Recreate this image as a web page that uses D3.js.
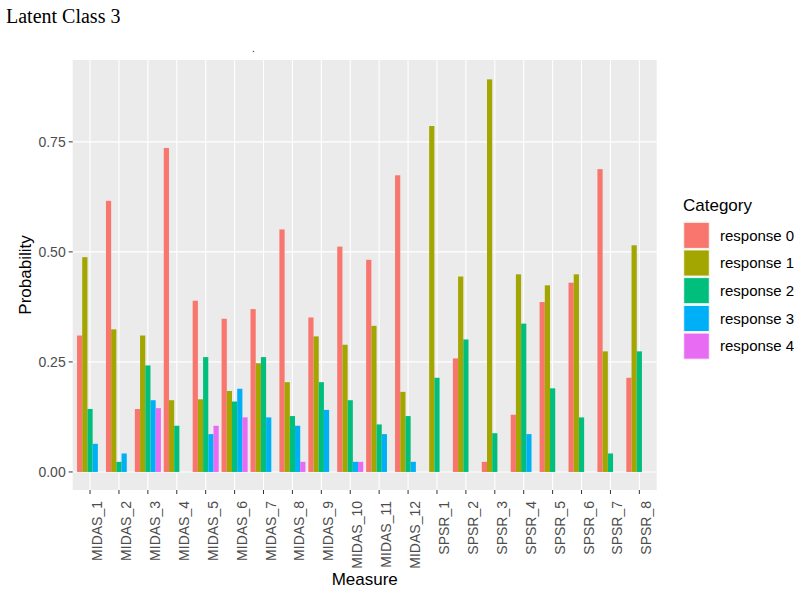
<!DOCTYPE html>
<html><head><meta charset="utf-8">
<script src="https://cdn.jsdelivr.net/npm/d3@7"></script>
<style>body{margin:0;background:#fff}svg{display:block}</style>
</head><body>
<script>
const measures = ["MIDAS_1","MIDAS_2","MIDAS_3","MIDAS_4","MIDAS_5","MIDAS_6","MIDAS_7","MIDAS_8","MIDAS_9","MIDAS_10","MIDAS_11","MIDAS_12","SPSR_1","SPSR_2","SPSR_3","SPSR_4","SPSR_5","SPSR_6","SPSR_7","SPSR_8"];
const categories = ["response 0","response 1","response 2","response 3","response 4"];
const response0 = [0.310,0.616,0.143,0.736,0.389,0.348,0.370,0.551,0.351,0.512,0.482,0.674,0.000,0.258,0.023,0.130,0.386,0.430,0.688,0.214];
const response1 = [0.488,0.324,0.310,0.163,0.165,0.184,0.247,0.204,0.308,0.289,0.332,0.182,0.786,0.444,0.892,0.449,0.424,0.449,0.274,0.515];
const response2 = [0.143,0.023,0.242,0.105,0.261,0.160,0.261,0.127,0.204,0.163,0.108,0.127,0.214,0.301,0.088,0.337,0.190,0.124,0.042,0.274];
const response3 = [0.064,0.042,0.163,0.000,0.086,0.189,0.124,0.105,0.141,0.023,0.086,0.023,0.000,0.000,0.000,0.086,0.000,0.000,0.000,0.000];
const response4 = [0.000,0.000,0.145,0.000,0.105,0.124,0.000,0.023,0.000,0.023,0.000,0.000,0.000,0.000,0.000,0.000,0.000,0.000,0.000,0.000];
const colors = ["#F8766D","#A3A500","#00BF7D","#00B0F6","#E76BF3"];
const yTicks = [0, 0.25, 0.5, 0.75];
const yTickLabels = ["0.00","0.25","0.50","0.75"];

const series = [response0,response1,response2,response3,response4];
const W = 800, H = 592;
const panel = {left: 72.7, right: 656.7, top: 60, bottom: 490};
const svg = d3.select("body").append("svg").attr("width", W).attr("height", H)
  .style("font-family", "'Liberation Sans', Arial, sans-serif");

// scales
const unit = (panel.right - panel.left) / 20.2;
const x = d3.scaleBand().domain(measures)
  .range([panel.left + 0.6*unit - unit/2, panel.right - 0.6*unit + unit/2]).padding(0);
const xc = d => x(d) + x.bandwidth()/2;
const xs = d3.scaleBand().domain(categories).range([-0.45*unit, 0.45*unit]).padding(0);
const y = d3.scaleLinear().domain([-0.041, 0.936]).range([panel.bottom, panel.top]);

// title
svg.append("text").attr("x", 6).attr("y", 23)
  .style("font-family", "'Liberation Serif', 'Times New Roman', serif")
  .style("font-size", "20px").attr("fill", "#000").text("Latent Class 3");
svg.append("text").attr("x", 252).attr("y", 52).style("font-size", "10px")
  .attr("fill", "#1a1a1a").text(".");

// panel
svg.append("rect").attr("x", panel.left).attr("y", panel.top)
  .attr("width", panel.right - panel.left).attr("height", panel.bottom - panel.top)
  .attr("fill", "#EBEBEB");
const g = svg.append("g");
g.selectAll("line.hg").data(yTicks).join("line")
  .attr("x1", panel.left).attr("x2", panel.right)
  .attr("y1", d => y(d)).attr("y2", d => y(d))
  .attr("stroke", "#fff").attr("stroke-width", 1.1);
g.selectAll("line.vg").data(measures).join("line")
  .attr("x1", d => xc(d)).attr("x2", d => xc(d))
  .attr("y1", panel.top).attr("y2", panel.bottom)
  .attr("stroke", "#fff").attr("stroke-width", 1.1);

// bars
const rows = [];
measures.forEach((m, i) => categories.forEach((c, k) => rows.push({m, c, k, v: series[k][i]})));
g.selectAll("rect.bar").data(rows.filter(r => r.v > 0)).join("rect")
  .attr("x", r => xc(r.m) + xs(r.c))
  .attr("width", xs.bandwidth())
  .attr("y", r => y(r.v))
  .attr("height", r => y(0) - y(r.v))
  .attr("fill", r => colors[r.k]);

// y axis
const yAxis = svg.append("g");
yAxis.selectAll("line").data(yTicks).join("line")
  .attr("x1", panel.left - 4).attr("x2", panel.left)
  .attr("y1", d => y(d)).attr("y2", d => y(d)).attr("stroke", "#333");
yAxis.selectAll("text").data(yTicks).join("text")
  .attr("x", panel.left - 7).attr("y", d => y(d)).attr("dy", "0.35em")
  .attr("text-anchor", "end").style("font-size", "14px").attr("fill", "#4D4D4D")
  .text((d, i) => yTickLabels[i]);
svg.append("text").attr("transform", `translate(31,${(panel.top+panel.bottom)/2}) rotate(-90)`)
  .attr("text-anchor", "middle").style("font-size", "17px").attr("fill", "#000").text("Probability");

// x axis
const xAxis = svg.append("g");
xAxis.selectAll("line").data(measures).join("line")
  .attr("x1", d => xc(d)).attr("x2", d => xc(d))
  .attr("y1", panel.bottom).attr("y2", panel.bottom + 4).attr("stroke", "#333");
xAxis.selectAll("text").data(measures).join("text")
  .attr("transform", d => `translate(${xc(d) + 12},${panel.bottom + 11}) rotate(-90)`)
  .attr("text-anchor", "end").style("font-size", "14px").attr("fill", "#4D4D4D")
  .text(d => d);
svg.append("text").attr("x", (panel.left + panel.right)/2).attr("y", 585)
  .attr("text-anchor", "middle").style("font-size", "17px").attr("fill", "#000").text("Measure");

// legend
const lg = svg.append("g");
lg.append("text").attr("x", 683).attr("y", 211).style("font-size", "17px").attr("fill", "#000").text("Category");
const keys = lg.selectAll("g").data(categories).join("g")
  .attr("transform", (d, i) => `translate(683,${221.5 + i*27.7})`);
keys.append("rect").attr("width", 27).attr("height", 27.7).attr("fill", "#F2F2F2");
keys.append("rect").attr("x", 0.8).attr("y", 0.8).attr("width", 25.4).attr("height", 26)
  .attr("fill", (d, i) => colors[i]).attr("stroke", "#fff").attr("stroke-width", 0.8);
keys.append("text").attr("x", 37).attr("y", 13.8).attr("dy", "0.35em")
  .style("font-size", "15px").attr("fill", "#000").text(d => d);
</script>
</body></html>
